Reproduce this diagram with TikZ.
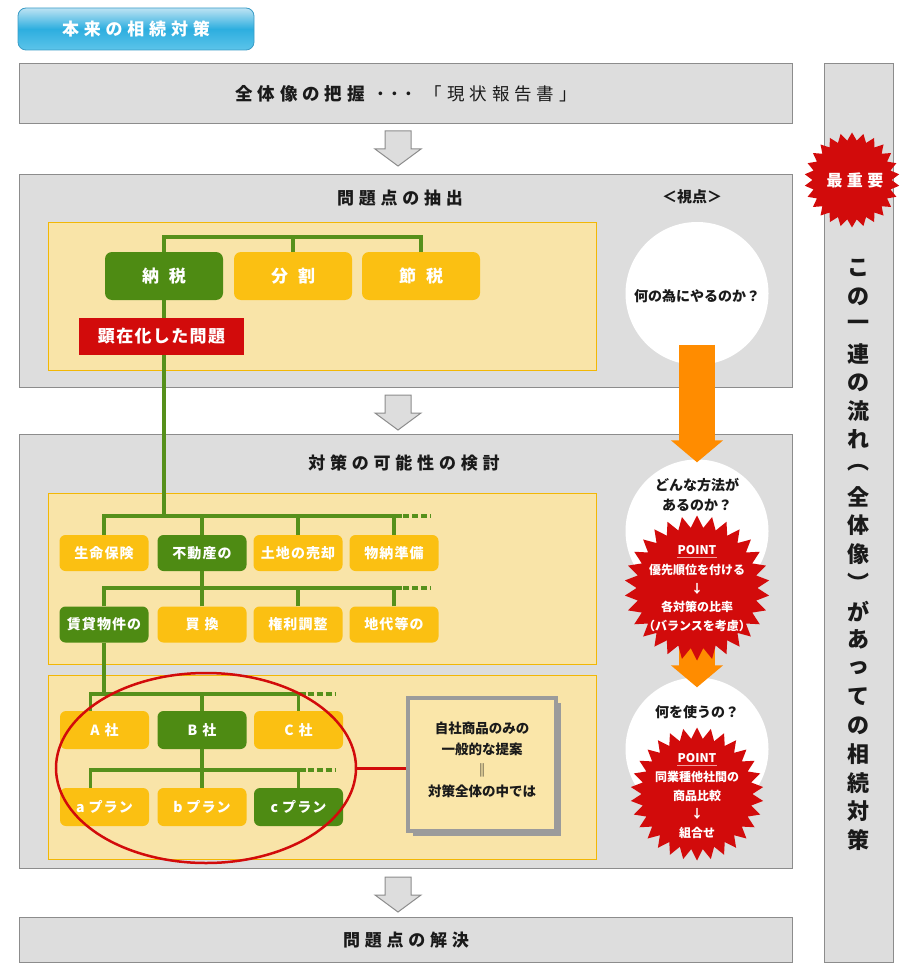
\documentclass[tikz,border=0pt]{standalone}
\usepackage{fontspec}
\setmainfont{Noto Sans CJK JP}
\newfontfamily\titlejp{Noto Sans CJK JP}[LetterSpace=28]
\newfontfamily\leafjp{Noto Sans CJK JP}[LetterSpace=8]
\usetikzlibrary{shapes.geometric,arrows.meta,shadows,positioning}

\definecolor{stagefill}{HTML}{DDDDDD}
\definecolor{stageline}{HTML}{8C8C8C}
\definecolor{trayfill}{HTML}{F9E4A8}
\definecolor{trayline}{HTML}{F2B705}
\definecolor{leafyel}{HTML}{FBC012}
\definecolor{leafgrn}{HTML}{4E8B13}
\definecolor{twiggrn}{HTML}{56901B}
\definecolor{alarm}{HTML}{D20B0B}
\definecolor{flow}{HTML}{FF8C00}
\definecolor{notefill}{HTML}{FAE6A9}
\definecolor{noteline}{HTML}{9B9B9B}
\definecolor{pointline}{HTML}{F29A9A}
\definecolor{tabhi}{HTML}{BDE3F3}
\definecolor{tabmid}{HTML}{2DAEDF}
\definecolor{tablo}{HTML}{5CC4EA}
\definecolor{tabline}{HTML}{3A9CC6}
\definecolor{ink}{HTML}{1A1A1A}

\begin{document}
\begin{tikzpicture}[x=1pt,y=-1pt,
  stage/.style={draw=stageline,fill=stagefill,line width=1.2pt,anchor=north west,inner sep=0pt},
  tray/.style={draw=trayline,fill=trayfill,line width=0.8pt,anchor=north west,inner sep=0pt},
  tab/.style={rounded corners=8pt,draw=tabline,line width=0.8pt,top color=tabhi,bottom color=tablo,middle color=tabmid,
    minimum width=236pt,minimum height=42pt,inner sep=0pt,text=white,font=\titlejp\bfseries\fontsize{17}{20}\selectfont},
  heading/.style={text=ink,font=\titlejp\bfseries\fontsize{17}{20}\selectfont,inner sep=0pt},
  topic/.style={rounded corners=7pt,minimum width=118pt,minimum height=48pt,inner sep=0pt,text=white,
    font=\bfseries\fontsize{17}{20}\selectfont},
  alarmbox/.style={fill=alarm,minimum width=165pt,minimum height=37pt,inner sep=0pt,text=white,
    font=\leafjp\bfseries\fontsize{17}{20}\selectfont},
  leaf/.style={rounded corners=6pt,minimum width=89pt,minimum height=36pt,inner sep=0pt,text=white,
    font=\leafjp\bfseries\fontsize{14}{17}\selectfont},
  twig/.style={twiggrn,line width=3.5pt},
  twigtail/.style={twig,dash pattern=on 6pt off 3pt},
  view/.style={circle,fill=white,minimum size=143pt,inner sep=0pt},
  ask/.style={text=ink,font=\bfseries\fontsize{14}{20}\selectfont,align=center,inner sep=0pt},
  burst/.style={star,star points=30,star point ratio=1.2,fill=alarm,inner sep=0pt},
  burstnote/.style={text=white,font=\bfseries\fontsize{12}{18.6}\selectfont,align=center,inner sep=0pt},
  fatarrow/.style={flow,line width=36pt,-{Triangle[length=22pt,width=51pt]}},
  note/.style={draw=noteline,line width=3.5pt,fill=notefill,minimum width=148pt,minimum height=133pt,inner sep=0pt,
    drop shadow={shadow xshift=5pt,shadow yshift=-5pt,fill=noteline,opacity=1}},
  notetext/.style={text=ink,font=\bfseries\fontsize{13.5}{21}\selectfont,align=center,inner sep=0pt},
  upright/.style={text=ink,font=\bfseries\fontsize{22}{22}\selectfont,inner sep=0pt}]

\useasboundingbox (0,0) rectangle (922,968);

\newcommand{\stepdown}[2]{%
  \draw[stageline,fill=stagefill,line width=1pt] ({#1-13},#2) -- ({#1+13},#2) -- ({#1+13},{#2+18}) -- ({#1+23},{#2+18})
    -- (#1,{#2+35}) -- ({#1-23},{#2+18}) -- ({#1-13},{#2+18}) -- cycle;
}

\node[tab] (origin) at (136,29) {本来の相続対策};

\node[stage,minimum width=773pt,minimum height=60pt,font=\titlejp\bfseries\fontsize{17.5}{20}\selectfont,text=ink] (grasp) at (19,63)
  {全体像の把握\hspace{12pt}･･･\hspace{12pt}{\mdseries 「現状報告書」}};
\node[stage,minimum width=773pt,minimum height=213pt] (extract) at (19,174) {};
\node[stage,minimum width=773pt,minimum height=434pt] (study) at (19,434) {};
\node[stage,minimum width=773pt,minimum height=45pt,font=\titlejp\bfseries\fontsize{17}{20}\selectfont,text=ink] (solve) at (19,917) {問題点の解決};
\node[stage,minimum width=69pt,minimum height=899pt] (flowbar) at (824,63) {};

\node[tray,minimum width=548pt,minimum height=148pt] (tray1) at (48,222) {};
\node[tray,minimum width=548pt,minimum height=171pt] (tray2) at (48,493) {};
\node[tray,minimum width=548pt,minimum height=184pt] (tray3) at (48,675) {};

\node[heading] (extracttitle) at (400,198) {問題点の抽出};
\node[heading] (studytitle) at (404,463) {対策の可能性の検討};
\node[text=ink,font=\bfseries\fontsize{15}{18}\selectfont,inner sep=0pt] (viewtitle) at (692,197) {＜視点＞};

\stepdown{398}{131}
\stepdown{398}{395}
\stepdown{398}{877}

\node[view] (why) at (697,293.5) {};
\node[ask] (whyq) at (697,296) {何の為にやるのか？};
\node[view] (how) at (697,531) {};
\node[ask] (howq) at (697,495) {どんな方法が\\あるのか？};
\node[view] (what) at (697,749) {};
\node[ask] (whatq) at (697,712) {何を使うの？};

\draw[fatarrow] ([yshift=-51pt]why.center) -- ([yshift=-3pt]how.north);
\draw[fatarrow] (how.south) -- ([yshift=-10pt]what.north);

\node[burst,minimum size=145pt] (prio) at (697,588) {};
\node[burstnote] (prio1) at (697,550) {POINT};
\draw[pointline,line width=1pt] ([yshift=-2.5pt]prio1.south west) -- ([yshift=-2.5pt]prio1.south east);
\node[burstnote] (prio2) at (697,598) {優先順位を付ける\\↓\\各対策の比率\\（バランスを考慮）};

\node[burst,minimum size=133pt] (compare) at (697,794) {};
\node[burstnote] (cmp1) at (697,758) {POINT};
\draw[pointline,line width=1pt] ([yshift=-2.5pt]cmp1.south west) -- ([yshift=-2.5pt]cmp1.south east);
\node[burstnote] (cmp2) at (697,805) {同業種他社間の\\商品比較\\↓\\組合せ};

\node[topic,fill=leafgrn] (nozei) at (164,276) {納\hspace{10pt}税};
\node[topic,fill=leafyel] (bunkatsu) at (293,276) {分\hspace{10pt}割};
\node[topic,fill=leafyel] (setsuzei) at (421,276) {節\hspace{10pt}税};
\node[alarmbox] (kenzai) at (161.5,336.5) {顕在化した問題};

\foreach \nm/\xx/\lab/\col in {seimei/104/生命保険/leafyel,fudosan/202/不動産の/leafgrn,tochi/298/土地の売却/leafyel,butsuno/394/物納準備/leafyel}
  \node[leaf,fill=\col] (\nm) at (\xx,553) {\lab};
\foreach \nm/\xx/\lab/\col in {chintai/104/賃貸物件の/leafgrn,kaikae/202/買\hspace{5pt}換/leafyel,kenri/298/権利調整/leafyel,chidai/394/地代等の/leafyel}
  \node[leaf,fill=\col] (\nm) at (\xx,624.5) {\lab};
\foreach \nm/\xx/\lab/\col in {asha/104.5/A\hspace{5pt}社/leafyel,bsha/202/B\hspace{5pt}社/leafgrn,csha/298.5/C\hspace{5pt}社/leafyel}
  \node[leaf,minimum height=38pt,fill=\col] (\nm) at (\xx,730) {\lab};
\foreach \nm/\xx/\lab/\col in {aplan/104.5/a\hspace{4pt}プラン/leafyel,bplan/202/b\hspace{4pt}プラン/leafyel,cplan/298.5/c\hspace{4pt}プラン/leafgrn}
  \node[leaf,minimum height=38pt,fill=\col] (\nm) at (\xx,807) {\lab};

\coordinate (bar1) at (0,516);
\coordinate (bar2) at (0,588);
\coordinate (bar3) at (0,694);
\coordinate (bar4) at (0,770);

\draw[twig] (nozei.north) -- ++(0,-15) -| (setsuzei.north);
\draw[twig] (bunkatsu.north) -- ++(0,-15);
\draw[twig] (nozei.south) -- (nozei.south |- kenzai.north);
\draw[twig] (nozei.south |- kenzai.south) -- (nozei.south |- bar1);

\draw[twig] (seimei.north) |- ([xshift=8pt]butsuno.north |- bar1);
\foreach \nm in {fudosan,tochi,butsuno}
  \draw[twig] (\nm.north) -- (\nm.north |- bar1);
\draw[twigtail] ([xshift=9pt]butsuno.north |- bar1) -- ++(28,0);

\draw[twig] (fudosan.south) -- (fudosan.south |- bar2);
\draw[twig] (chintai.north) |- ([xshift=8pt]chidai.north |- bar2);
\foreach \nm in {kaikae,kenri,chidai}
  \draw[twig] (\nm.north) -- (\nm.north |- bar2);
\draw[twigtail] ([xshift=9pt]chidai.north |- bar2) -- ++(28,0);

\draw[twig] (chintai.south) -- (chintai.south |- bar3);
\draw[twig] ([xshift=-14pt]asha.north) |- ([xshift=7pt]csha.north |- bar3);
\foreach \nm in {bsha,csha}
  \draw[twig] (\nm.north) -- (\nm.north |- bar3);
\draw[twigtail] ([xshift=9pt]csha.north |- bar3) -- ++(28,0);

\draw[twig] (bsha.south) -- (bsha.south |- bar4);
\draw[twig] ([xshift=-14pt]aplan.north) |- ([xshift=7pt]cplan.north |- bar4);
\foreach \nm in {bplan,cplan}
  \draw[twig] (\nm.north) -- (\nm.north |- bar4);
\draw[twigtail] ([xshift=9pt]cplan.north |- bar4) -- ++(28,0);

\node[ellipse,draw=alarm,line width=2.5pt,minimum width=300pt,minimum height=190pt,inner sep=0pt] (ring) at (206,768) {};
\node[note] (ownplan) at (482,764.5) {};
\node[notetext] (ownplantext) at (482,760) {自社商品のみの\\一般的な提案\\‖\\対策全体の中では};
\draw[alarm,line width=3pt] (ring.east) -- (ring.east -| ownplan.west);

\node[burst,star points=26,minimum size=95pt] (vital) at (852,180) {};
\node[text=white,font=\titlejp\bfseries\fontsize{16}{19}\selectfont,inner sep=0pt] (vitaltext) at (855,180) {最重要};

\foreach \ch [count=\k from 0] in {こ,の,一,連,の,流,れ,︵,全,体,像,︶,が,あ,っ,て,の,相,続,対,策}
  \node[upright] (flowch\k) at (858,{268+28.6*\k}) {\ch};
\end{tikzpicture}
\end{document}
